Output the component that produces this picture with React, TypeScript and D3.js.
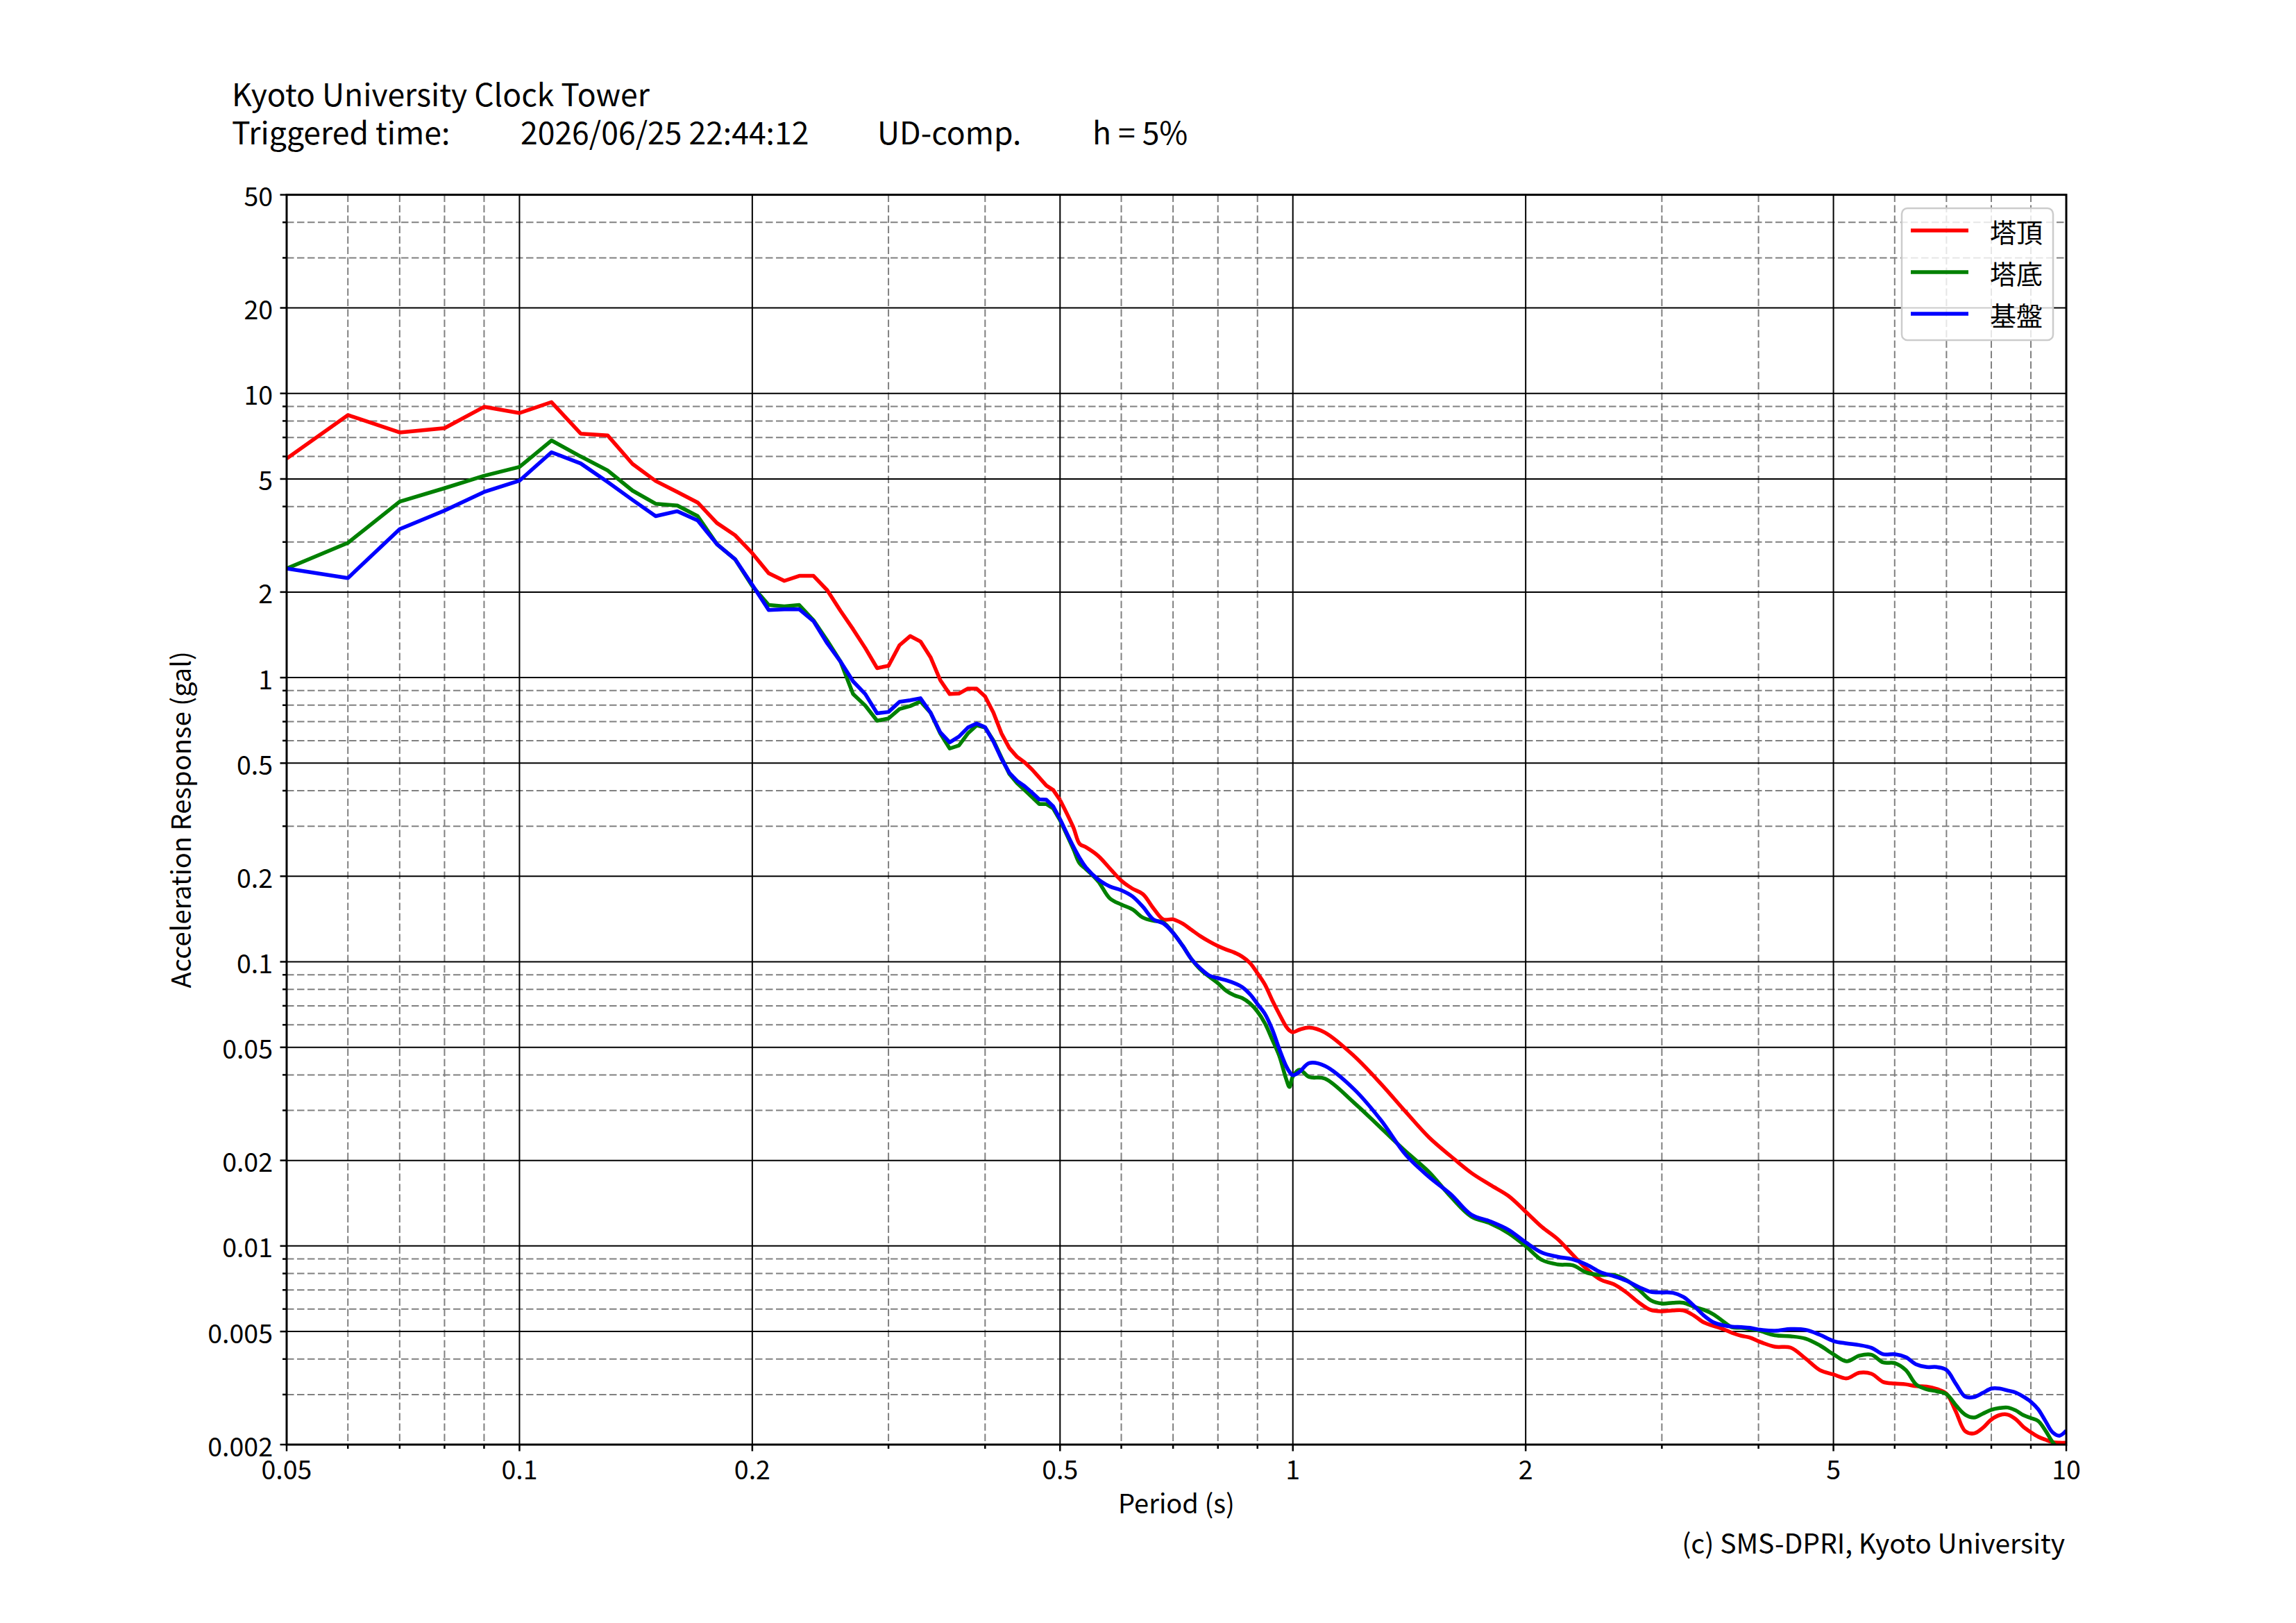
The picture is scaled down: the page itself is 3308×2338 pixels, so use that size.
import React from 'react';
import * as d3 from 'd3';

// ---------- data ----------
const periods: number[] = [
  0.05, 0.06, 0.07, 0.08, 0.09, 0.10, 0.11, 0.12, 0.13, 0.14, 0.15, 0.16, 0.17, 0.18, 0.19, 0.20,
  0.21, 0.22, 0.23, 0.24, 0.25, 0.26, 0.27, 0.28, 0.29, 0.30, 0.31, 0.32, 0.33, 0.34, 0.35, 0.36,
  0.37, 0.38, 0.39, 0.40, 0.41, 0.42, 0.43, 0.44, 0.45, 0.46, 0.47, 0.48, 0.49, 0.50,
  0.52, 0.53, 0.54, 0.56, 0.58, 0.60, 0.62, 0.64, 0.66, 0.68, 0.70, 0.72, 0.74, 0.76, 0.78, 0.80,
  0.82, 0.84, 0.86, 0.88, 0.90, 0.92, 0.94, 0.96, 0.98, 0.99, 1.00, 1.02,
  1.05, 1.1, 1.2, 1.3, 1.4, 1.5, 1.6, 1.7, 1.8, 1.9, 2.0, 2.1, 2.2, 2.3, 2.4, 2.5, 2.6, 2.7, 2.8, 2.9, 3.0,
  3.1, 3.2, 3.3, 3.4, 3.5, 3.6, 3.7, 3.8, 3.9, 4.0,
  4.2, 4.4, 4.6, 4.8, 5.0, 5.2, 5.4, 5.6, 5.8, 6.0, 6.2, 6.4, 6.6, 6.8, 7.0, 7.2, 7.4, 7.6, 7.8, 8.0,
  8.2, 8.4, 8.6, 8.8, 9.0, 9.2, 9.4, 9.6, 9.8, 10,
];

// 塔頂 (tower top)
const towerTop: number[] = [
  5.90, 8.39, 7.29, 7.55, 8.97, 8.53, 9.32, 7.22, 7.12, 5.65, 4.92, 4.50, 4.13, 3.50, 3.17, 2.74,
  2.33, 2.19, 2.28, 2.28, 2.03, 1.72, 1.48, 1.27, 1.08, 1.10, 1.30, 1.40, 1.34, 1.18, 0.98, 0.875,
  0.879, 0.915, 0.915, 0.858, 0.753, 0.636, 0.565, 0.526, 0.503, 0.475, 0.445, 0.417, 0.402, 0.371,
  0.298, 0.260, 0.253, 0.236, 0.213, 0.193, 0.181, 0.173, 0.1545, 0.141, 0.141, 0.1363, 0.1293, 0.1229, 0.1178, 0.1136,
  0.1104, 0.1078, 0.1042, 0.0991, 0.0911, 0.0832, 0.0734, 0.0656, 0.0592, 0.0573, 0.0565, 0.0577,
  0.0587, 0.0564, 0.0466, 0.0372, 0.0296, 0.0241, 0.0207, 0.0181, 0.0164, 0.0150, 0.0132, 0.01165, 0.01057, 0.00932, 0.00828, 0.00761, 0.00733, 0.00686, 0.00633, 0.00596, 0.00589,
  0.00593, 0.00593, 0.00569, 0.00538, 0.00523, 0.0051, 0.00494, 0.00483, 0.00476, 0.00462,
  0.00442, 0.00439, 0.00402, 0.00366, 0.00353, 0.00342, 0.00358, 0.00355, 0.00332, 0.00328, 0.00326, 0.00321, 0.0032, 0.00314, 0.00302, 0.00261, 0.00223, 0.00219, 0.00229, 0.00245,
  0.00254, 0.00255, 0.00246, 0.00231, 0.00221, 0.00213, 0.00208, 0.00204, 0.00203, 0.00203,
];

// 塔底 (tower base)
const towerBase: number[] = [
  2.42, 2.98, 4.16, 4.64, 5.13, 5.51, 6.83, 6.00, 5.36, 4.55, 4.09, 4.03, 3.70, 2.95, 2.61, 2.10,
  1.80, 1.78, 1.80, 1.59, 1.35, 1.14, 0.875, 0.797, 0.705, 0.718, 0.775, 0.794, 0.824, 0.753, 0.636, 0.563,
  0.577, 0.636, 0.679, 0.667, 0.601, 0.523, 0.458, 0.425, 0.402, 0.380, 0.359, 0.359, 0.346, 0.315,
  0.250, 0.222, 0.212, 0.192, 0.167, 0.159, 0.153, 0.143, 0.1394, 0.1375, 0.1264, 0.114, 0.1019, 0.0937, 0.0885, 0.0840,
  0.0791, 0.0762, 0.0745, 0.0714, 0.0668, 0.0608, 0.0534, 0.0468, 0.0388, 0.0363, 0.0395, 0.0417,
  0.0393, 0.0388, 0.0319, 0.0260, 0.0215, 0.0182, 0.0149, 0.0127, 0.0120, 0.0111, 0.00999, 0.00892, 0.00861, 0.00855, 0.00805, 0.0079, 0.0079, 0.00758, 0.00703, 0.00645, 0.00627,
  0.00631, 0.00631, 0.00611, 0.00596, 0.00574, 0.00543, 0.00517, 0.00515, 0.0051, 0.00504,
  0.00485, 0.00481, 0.00472, 0.00447, 0.00416, 0.00393, 0.00411, 0.00414, 0.00389, 0.00387, 0.00366, 0.00325, 0.00313, 0.00308, 0.00301, 0.00275, 0.00255, 0.00249, 0.00257, 0.00265,
  0.00269, 0.0027, 0.00264, 0.00254, 0.00248, 0.00242, 0.00224, 0.00204, 0.00191, 0.0018,
];

// 基盤 (ground)
const ground: number[] = [
  2.42, 2.24, 3.33, 3.87, 4.50, 4.93, 6.21, 5.67, 4.88, 4.22, 3.70, 3.85, 3.57, 2.95, 2.61, 2.12,
  1.73, 1.74, 1.74, 1.58, 1.32, 1.14, 0.970, 0.875, 0.749, 0.757, 0.822, 0.832, 0.846, 0.753, 0.642, 0.592,
  0.620, 0.667, 0.689, 0.669, 0.596, 0.518, 0.462, 0.433, 0.415, 0.394, 0.373, 0.372, 0.352, 0.318,
  0.255, 0.232, 0.215, 0.195, 0.184, 0.1785, 0.170, 0.156, 0.141, 0.1365, 0.1264, 0.114, 0.1019, 0.0945, 0.0894, 0.0876,
  0.0861, 0.0841, 0.0814, 0.0769, 0.0710, 0.0656, 0.0580, 0.0495, 0.0430, 0.0410, 0.0399, 0.0410,
  0.0440, 0.0430, 0.0356, 0.0277, 0.0209, 0.0175, 0.0152, 0.0129, 0.0122, 0.0114, 0.0103, 0.00947, 0.00916, 0.00897, 0.00859, 0.00808, 0.00783, 0.00754, 0.00717, 0.0069, 0.00686,
  0.00684, 0.00661, 0.00616, 0.00569, 0.00538, 0.00526, 0.0052, 0.00518, 0.00515, 0.00508,
  0.00503, 0.0051, 0.00507, 0.00487, 0.00463, 0.00454, 0.00448, 0.00438, 0.00416, 0.00416, 0.00406, 0.00383, 0.00375, 0.00375, 0.00366, 0.00327, 0.00295, 0.00294, 0.00304, 0.00315,
  0.00315, 0.0031, 0.00305, 0.00295, 0.00283, 0.00266, 0.00242, 0.00221, 0.00215, 0.00224,
];

const seriesNames = ['塔頂', '塔底', '基盤'];
const seriesColors = ['#ff0000', '#008000', '#0000ff'];

const xMajorTicks = [0.05, 0.1, 0.2, 0.5, 1, 2, 5, 10];
const xMajorLabels = ['0.05', '0.1', '0.2', '0.5', '1', '2', '5', '10'];
const xMinorTicks = [0.06, 0.07, 0.08, 0.09, 0.3, 0.4, 0.6, 0.7, 0.8, 0.9, 3, 4, 6, 7, 8, 9];

const yMajorTicks = [0.002, 0.005, 0.01, 0.02, 0.05, 0.1, 0.2, 0.5, 1, 2, 5, 10, 20, 50];
const yMajorLabels = ['0.002', '0.005', '0.01', '0.02', '0.05', '0.1', '0.2', '0.5', '1', '2', '5', '10', '20', '50'];
const yMinorTicks = [
  0.003, 0.004, 0.006, 0.007, 0.008, 0.009, 0.03, 0.04, 0.06, 0.07, 0.08, 0.09,
  0.3, 0.4, 0.6, 0.7, 0.8, 0.9, 3, 4, 6, 7, 8, 9, 30, 40,
];

const titleLine1 = 'Kyoto University Clock Tower';
const titleLine2 = ['Triggered time:', '2026/06/25 22:44:12', 'UD-comp.', 'h = 5%'];
const xLabel = 'Period (s)';
const yLabel = 'Acceleration Response (gal)';
const credit = '(c) SMS-DPRI, Kyoto University';

// ---------- layout ----------
const W = 3308;
const H = 2338;
const L = 413;
const R = 2977;
const T = 280.6;
const B = 2081;
const FONT = '"Noto Sans CJK JP", "Noto Sans", sans-serif';

export default function App() {
  const x = d3.scaleLog().domain([0.05, 10]).range([L, R]);
  const y = d3.scaleLog().domain([0.002, 50]).range([B, T]);

  const allSeries = [towerTop, towerBase, ground];
  const splitIdx = periods.indexOf(0.5);

  const linear = d3
    .line<[number, number]>()
    .x((d) => x(d[0]))
    .y((d) => y(d[1]))
    .curve(d3.curveLinear);
  const smooth = d3
    .line<[number, number]>()
    .x((d) => x(d[0]))
    .y((d) => y(d[1]))
    .curve(d3.curveCatmullRom.alpha(0.5));

  const line2X = [334, 750, 1264, 1574];

  return (
    <svg
      width={W}
      height={H}
      viewBox={`0 0 ${W} ${H}`}
      style={{ position: 'absolute', left: 0, top: 0, background: '#fff' }}
      fontFamily={FONT}
    >
      <rect x={0} y={0} width={W} height={H} fill="#fff" />
      <defs>
        <clipPath id="plotClip">
          <rect x={L} y={T} width={R - L} height={B - T} />
        </clipPath>
      </defs>

      {/* minor grid */}
      <g stroke="#808080" strokeWidth={2} strokeDasharray="10.5,4.5" fill="none">
        {xMinorTicks.map((t) => (
          <line key={'xm' + t} x1={x(t)} x2={x(t)} y1={T} y2={B} />
        ))}
        {yMinorTicks.map((t) => (
          <line key={'ym' + t} x1={L} x2={R} y1={y(t)} y2={y(t)} />
        ))}
      </g>
      {/* major grid */}
      <g stroke="#000" strokeWidth={2} fill="none">
        {xMajorTicks.map((t) => (
          <line key={'xM' + t} x1={x(t)} x2={x(t)} y1={T} y2={B} />
        ))}
        {yMajorTicks.map((t) => (
          <line key={'yM' + t} x1={L} x2={R} y1={y(t)} y2={y(t)} />
        ))}
      </g>

      {/* series */}
      <g clipPath="url(#plotClip)" fill="none" strokeWidth={5.5} strokeLinejoin="round" strokeLinecap="butt">
        {allSeries.map((vals, si) => {
          const pts: [number, number][] = periods.map((p, i) => [p, vals[i]]);
          const a = pts.slice(0, splitIdx + 1);
          const b = pts.slice(splitIdx);
          return (
            <g key={'s' + si} stroke={seriesColors[si]}>
              <path d={linear(a) || ''} />
              <path d={smooth(b) || ''} />
            </g>
          );
        })}
      </g>

      {/* spines */}
      <rect x={L} y={T} width={R - L} height={B - T} fill="none" stroke="#000" strokeWidth={3} />

      {/* ticks */}
      <g stroke="#000" strokeWidth={2.5}>
        {xMajorTicks.map((t) => (
          <line key={'xt' + t} x1={x(t)} x2={x(t)} y1={B} y2={B + 9.5} />
        ))}
        {xMinorTicks.map((t) => (
          <line key={'xmt' + t} x1={x(t)} x2={x(t)} y1={B} y2={B + 6} />
        ))}
        {yMajorTicks.map((t) => (
          <line key={'yt' + t} x1={L - 9.5} x2={L} y1={y(t)} y2={y(t)} />
        ))}
        {yMinorTicks.map((t) => (
          <line key={'ymt' + t} x1={L - 6} x2={L} y1={y(t)} y2={y(t)} />
        ))}
      </g>

      {/* tick labels */}
      <g fontSize={37.5} fill="#000">
        {xMajorTicks.map((t, i) => (
          <text key={'xl' + t} x={x(t)} y={2131} textAnchor="middle">
            {xMajorLabels[i]}
          </text>
        ))}
        {yMajorTicks.map((t, i) => (
          <text key={'yl' + t} x={393} y={y(t)} textAnchor="end" dominantBaseline="central">
            {yMajorLabels[i]}
          </text>
        ))}
      </g>

      {/* axis labels */}
      <text x={(L + R) / 2} y={2180} textAnchor="middle" fontSize={38}>
        {xLabel}
      </text>
      <text transform={`translate(275, ${(T + B) / 2}) rotate(-90)`} textAnchor="middle" fontSize={38}>
        {yLabel}
      </text>

      {/* title */}
      <text x={334} y={153} fontSize={44.5}>
        {titleLine1}
      </text>
      {titleLine2.map((s, i) => (
        <text key={'t2' + i} x={line2X[i]} y={208} fontSize={44.5}>
          {s}
        </text>
      ))}

      {/* credit */}
      <text x={2975} y={2238} textAnchor="end" fontSize={39}>
        {credit}
      </text>

      {/* legend */}
      <g>
        <rect x={2740} y={300} width={218} height={190} rx={8} ry={8} fill="#fff" fillOpacity={0.8} stroke="#cccccc" strokeWidth={2.5} />
        {seriesNames.map((n, i) => {
          const ly = 332 + i * 60;
          return (
            <g key={'lg' + i}>
              <line x1={2753} x2={2836} y1={ly} y2={ly} stroke={seriesColors[i]} strokeWidth={5.5} />
              <text x={2867} y={ly} fontSize={38} dominantBaseline="central">
                {n}
              </text>
            </g>
          );
        })}
      </g>
    </svg>
  );
}
